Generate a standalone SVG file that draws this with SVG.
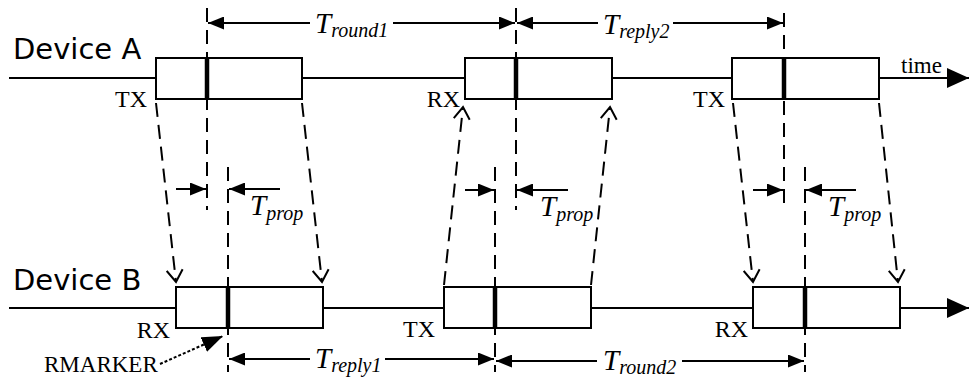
<svg xmlns="http://www.w3.org/2000/svg" width="969" height="379" viewBox="0 0 969 379">
<defs>
<style>
.ln{stroke:#000;stroke-width:2;fill:none}
.dash{stroke:#000;stroke-width:2;fill:none;stroke-dasharray:14 8}
.box{stroke:#000;stroke-width:2;fill:#fff}
.mk{stroke:#000;stroke-width:4.5}
.dev{font-family:"DejaVu Sans",sans-serif;font-size:29px;fill:#000}
.lb{font-family:"Liberation Serif",serif;font-size:24px;fill:#000}
.tt{font-family:"Liberation Serif",serif;font-style:italic;font-size:29px;fill:#000}
.sb{font-size:20px}
</style>
<marker id="fa" markerUnits="userSpaceOnUse" viewBox="0 0 16 13" markerWidth="16" markerHeight="13" refX="16" refY="6.5" orient="auto"><path d="M0,0 L16,6.5 L0,13 z" fill="#000"/></marker>
<marker id="oa" markerUnits="userSpaceOnUse" viewBox="0 0 15 18" markerWidth="15" markerHeight="18" refX="13" refY="9" orient="auto"><path d="M1,1 L13,9 L1,17" fill="none" stroke="#000" stroke-width="2" stroke-dasharray="none"/></marker>
<marker id="ta" markerUnits="userSpaceOnUse" viewBox="0 0 22 20" markerWidth="22" markerHeight="20" refX="22" refY="10" orient="auto"><path d="M0,0 L22,10 L0,20 z" fill="#000"/></marker>
<marker id="ba" markerUnits="userSpaceOnUse" viewBox="0 0 21 16" markerWidth="21" markerHeight="16" refX="21" refY="8" orient="auto"><path d="M0,0 L21,8 L0,16 z" fill="#000"/></marker>
</defs>
<g id="timelines">
<line class="ln" x1="9" y1="78" x2="969" y2="78" marker-end="url(#ta)"/>
<line class="ln" x1="9" y1="308" x2="969" y2="308" marker-end="url(#ta)"/>
<text class="lb" x="901" y="73" style="font-size:23px">time</text>
</g>
<g id="deviceA"><text class="dev" x="13" y="59">Device A</text></g>
<g id="deviceB"><text class="dev" x="13" y="290">Device B</text></g>
<g id="a1"><rect class="box" x="156" y="58" width="146" height="41"/><line class="mk" x1="207" y1="58" x2="207" y2="99"/><text class="lb" x="147" y="107" text-anchor="end">TX</text></g>
<g id="a2"><rect class="box" x="465" y="58" width="147" height="41"/><line class="mk" x1="516" y1="58" x2="516" y2="99"/><text class="lb" x="460" y="107" text-anchor="end">RX</text></g>
<g id="a3"><rect class="box" x="732" y="58" width="147" height="41"/><line class="mk" x1="784" y1="58" x2="784" y2="99"/><text class="lb" x="725" y="107" text-anchor="end">TX</text></g>
<g id="b1"><rect class="box" x="176" y="287" width="147" height="41"/><line class="mk" x1="228" y1="287" x2="228" y2="328"/><text class="lb" x="170" y="338" text-anchor="end">RX</text></g>
<g id="b2"><rect class="box" x="444" y="287" width="147" height="41"/><line class="mk" x1="495" y1="287" x2="495" y2="328"/><text class="lb" x="435" y="337" text-anchor="end">TX</text></g>
<g id="b3"><rect class="box" x="753" y="287" width="147" height="41"/><line class="mk" x1="805" y1="287" x2="805" y2="328"/><text class="lb" x="748" y="337" text-anchor="end">RX</text></g>
<g id="rmarker"><text class="lb" x="44" y="372" style="font-size:23px">RMARKER</text></g>
<g id="connectors">
<!-- vertical reference dashes -->
<line class="dash" x1="207" y1="8" x2="207" y2="210"/>
<line class="dash" x1="228" y1="167" x2="228" y2="372"/>
<line class="dash" x1="516" y1="8" x2="516" y2="210"/>
<line class="dash" x1="495" y1="167" x2="495" y2="372"/>
<line class="dash" x1="784" y1="13" x2="784" y2="210"/>
<line class="dash" x1="805" y1="167" x2="805" y2="372"/>
<!-- signal propagation -->
<line class="dash" x1="156" y1="103" x2="176" y2="282" marker-end="url(#oa)"/>
<line class="dash" x1="302" y1="103" x2="322" y2="282" marker-end="url(#oa)"/>
<line class="dash" x1="444" y1="285" x2="463" y2="107" marker-end="url(#oa)"/>
<line class="dash" x1="591" y1="285" x2="610" y2="107" marker-end="url(#oa)"/>
<line class="dash" x1="733" y1="103" x2="753" y2="282" marker-end="url(#oa)"/>
<line class="dash" x1="879" y1="103" x2="898" y2="282" marker-end="url(#oa)"/>
<!-- Tprop -->
<line class="ln" x1="176" y1="189" x2="206" y2="189" marker-end="url(#fa)"/>
<line class="ln" x1="280" y1="189" x2="229" y2="189" marker-end="url(#fa)"/>
<line class="ln" x1="465" y1="190" x2="494" y2="190" marker-end="url(#fa)"/>
<line class="ln" x1="568" y1="190" x2="517" y2="190" marker-end="url(#fa)"/>
<line class="ln" x1="753" y1="190" x2="783" y2="190" marker-end="url(#fa)"/>
<line class="ln" x1="856" y1="190" x2="806" y2="190" marker-end="url(#fa)"/>
<!-- Tround1 / Treply2 -->
<line class="ln" x1="310" y1="23" x2="208" y2="23" marker-end="url(#fa)"/>
<line class="ln" x1="393" y1="23" x2="515" y2="23" marker-end="url(#fa)"/>
<line class="ln" x1="598" y1="23" x2="517" y2="23" marker-end="url(#fa)"/>
<line class="ln" x1="673" y1="23" x2="783" y2="23" marker-end="url(#fa)"/>
<!-- Treply1 / Tround2 -->
<line class="ln" x1="310" y1="359" x2="229" y2="359" marker-end="url(#fa)"/>
<line class="ln" x1="385" y1="359" x2="494" y2="359" marker-end="url(#fa)"/>
<line class="ln" x1="597" y1="361" x2="496" y2="361" marker-end="url(#fa)"/>
<line class="ln" x1="682" y1="361" x2="804" y2="361" marker-end="url(#fa)"/>
<!-- RMARKER pointer -->
<line x1="160" y1="364" x2="223" y2="336" stroke="#000" stroke-width="2" stroke-dasharray="3 2" marker-end="url(#ba)"/>
</g>
<g id="labels">
<text class="tt" x="315" y="33">T<tspan class="sb" dy="4">round1</tspan></text>
<text class="tt" x="603" y="34">T<tspan class="sb" dy="4">reply2</tspan></text>
<text class="tt" x="315" y="368">T<tspan class="sb" dy="4">reply1</tspan></text>
<text class="tt" x="603" y="370">T<tspan class="sb" dy="4">round2</tspan></text>
<text class="tt" x="250" y="215">T<tspan class="sb" dy="5">prop</tspan></text>
<text class="tt" x="540" y="216">T<tspan class="sb" dy="5">prop</tspan></text>
<text class="tt" x="828" y="216">T<tspan class="sb" dy="5">prop</tspan></text>
</g>
</svg>
